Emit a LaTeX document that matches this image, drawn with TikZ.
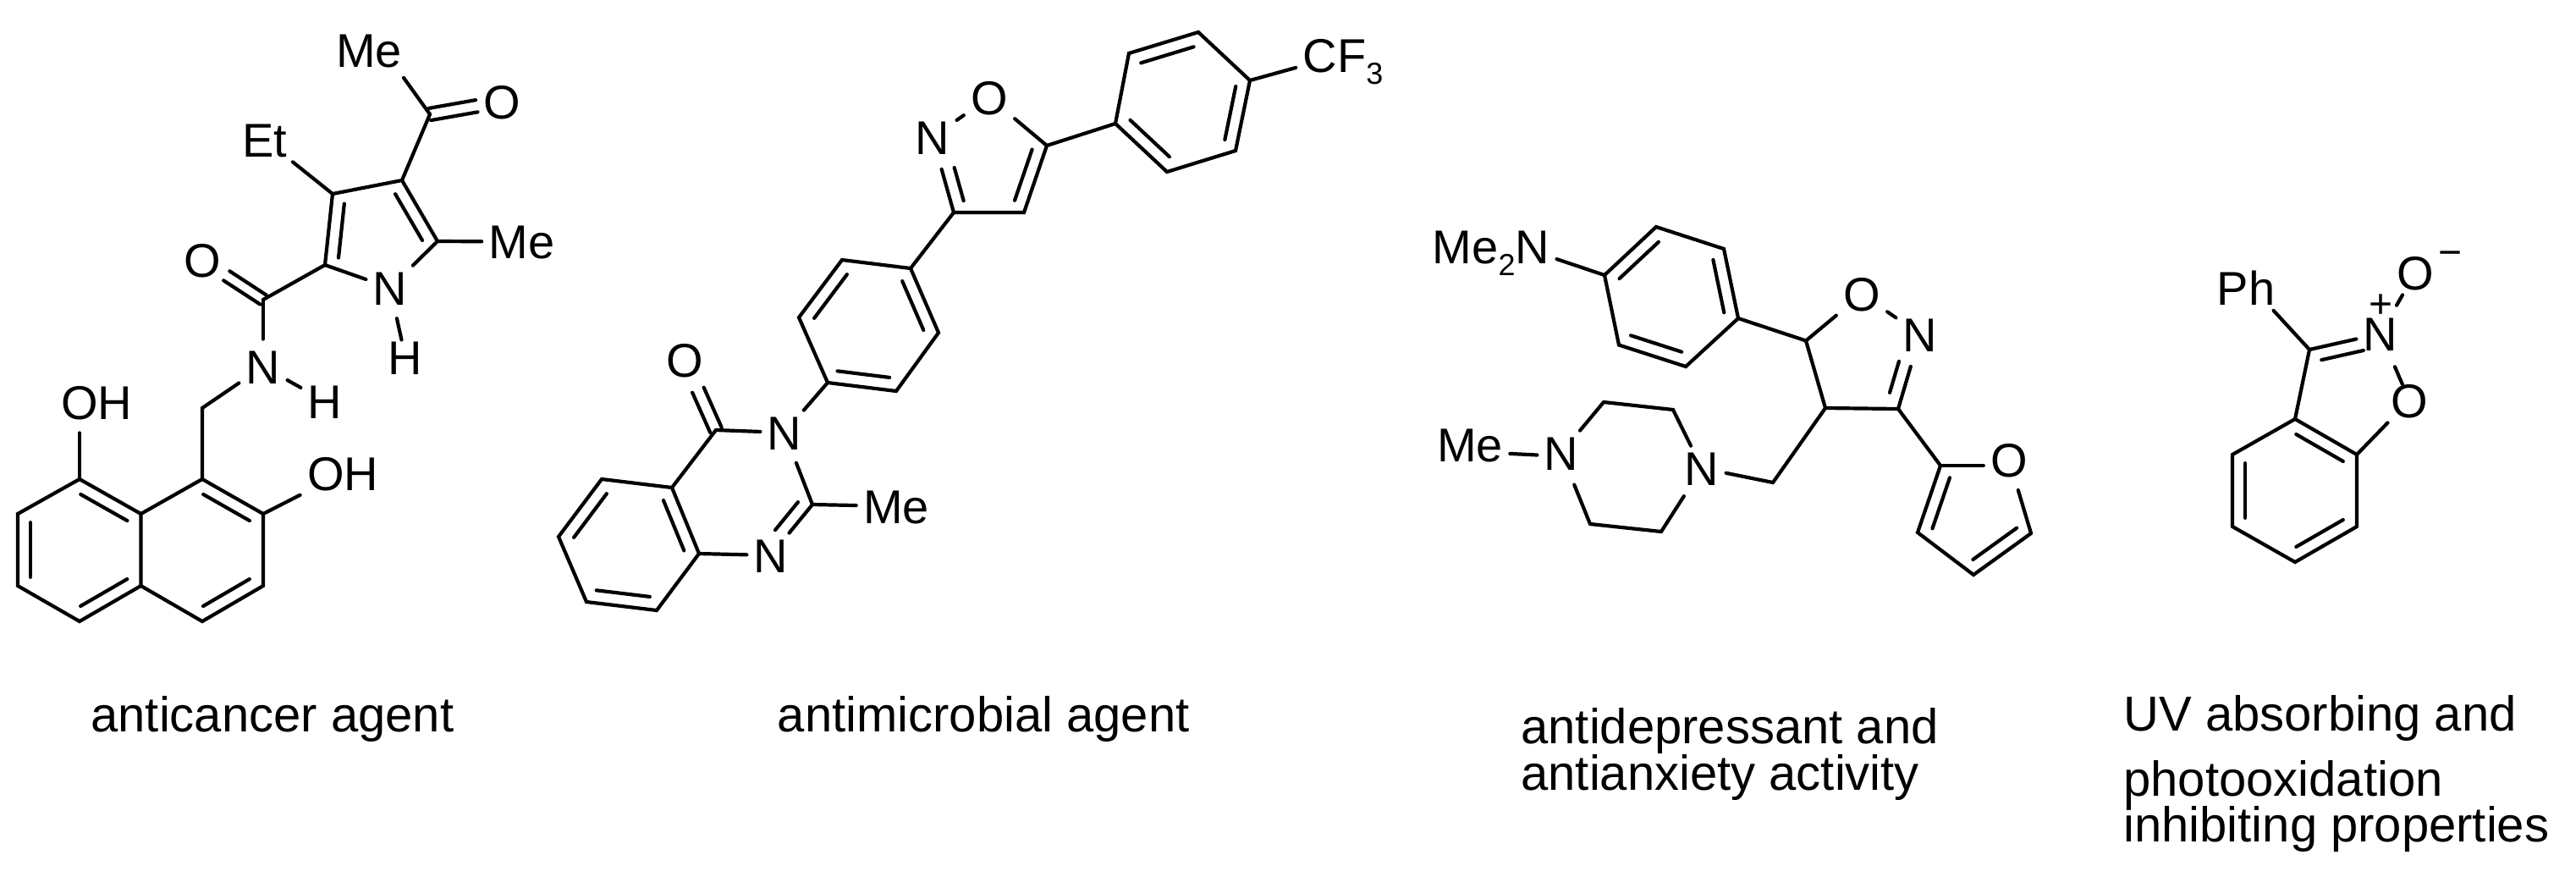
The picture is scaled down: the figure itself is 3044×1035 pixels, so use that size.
\documentclass[tikz,border=0pt]{standalone}
\usepackage{fontspec}
\setmainfont{Liberation Sans}
\usetikzlibrary{calc}
\tikzset{
  bond/.style={line width=2.1pt,line cap=round,line join=miter,black},
  atom/.style={inner xsep=4pt,inner ysep=3pt,text height=20pt,text depth=0pt,font=\fontsize{28}{28}\selectfont,text=black},
  caption/.style={anchor=base west,inner sep=0pt,font=\fontsize{29}{29}\selectfont,text=black},
  charge/.style={inner sep=0pt,font=\fontsize{24}{24}\selectfont,text=black}
}
\newcommand{\chemsub}[1]{\raisebox{-7.2pt}{\fontsize{18}{18}\selectfont #1}}
% inner line of a ring double bond: to the right of the way a -> b
\newcommand{\dblf}[4]{\draw[bond] ($(#1)!#3!(#2)!7.5pt!-90:(#2)$) -- ($(#1)!#4!(#2)!7.5pt!-90:(#2)$);}
\newcommand{\dbl}[2]{\dblf{#1}{#2}{.12}{.88}}
% two lines either side of the axis a -> b, from a to fraction f
\newcommand{\sdbl}[4]{%
  \draw[bond] ($(#1)!0!(#2)!#4!90:(#2)$) -- ($(#1)!#3!(#2)!#4!90:(#2)$);
  \draw[bond] ($(#1)!0!(#2)!#4!-90:(#2)$) -- ($(#1)!#3!(#2)!#4!-90:(#2)$);}
\begin{document}
\begin{tikzpicture}[x=.5pt,y=-.5pt]
\useasboundingbox[fill=white] (0,0) rectangle (3044,1035);
% ---------- molecule 1
\foreach \n/\x/\y in {a1/21/607,a2/21/692,a3/94/734,a4/166.5/692,a5/166.5/607,a6/94/566,a7/239/566,a8/311/607,a9/311/692,a10/239/734,ch2/239/482,amc/311/354,py2/384/313,py3/393/229,py4/475/213,py5/517/285,acc/508/135}
  \coordinate (\n) at (\x,\y);
\node[atom] (oh1) at (114,475) {OH};
\node[atom] (oh2) at (405,559) {OH};
\node[atom] (nam) at (311,433) {N};
\node[atom] (ham) at (384,474) {H};
\node[atom] (oam) at (239,307) {O};
\node[atom] (npy) at (461,340) {N};
\node[atom] (hpy) at (479,422) {H};
\node[atom] (me5) at (616.5,285.5) {Me};
\node[atom] (et) at (313,165) {Et};
\node[atom] (oac) at (593,120) {O};
\node[atom] (meac) at (436,59) {Me};
\draw[bond] (a1)--(a6)--(a5)--(a4)--(a3)--(a2)--cycle;
\draw[bond] (a5)--(a7)--(a8)--(a9)--(a10)--(a4);
\dbl{a6}{a5}\dbl{a4}{a3}\dbl{a2}{a1}\dbl{a7}{a8}\dbl{a9}{a10}
\draw[bond,shorten >=5pt] (a6) -- (a6 |- oh1.south);
\draw[bond] (a8) -- (oh2);
\draw[bond] (a7) -- (ch2) -- (nam);
\draw[bond] (nam) -- (ham);
\draw[bond,shorten >=3pt] (amc) -- (nam);
\sdbl{amc}{oam}{.6}{3.3pt}
\draw[bond] (amc) -- (py2);
\draw[bond] (npy) -- (py2) -- (py3) -- (py4) -- (py5) -- (npy);
\dbl{py2}{py3}\dbl{py4}{py5}
\draw[bond,shorten <=5pt,shorten >=-3pt] (npy) -- (hpy);
\draw[bond] (py5) -- (me5);
\draw[bond] (py3) -- (et);
\draw[bond] (py4) -- (acc);
\draw[bond,shorten >=4pt] (acc) -- (meac.-36);
\sdbl{acc}{oac}{.65}{3.6pt}
% ---------- molecule 2
\foreach \n/\x/\y in {b1/711/566,b2/660/634,b3/693/711,b4/776/721,b5/826/654,b6/794/576,c4/846/508,c2/960/596,p1/978/452,p2/1059/462,p3/1109/393,p4/1076/317,p5/995/307,p6/944/375,i3/1127/251,i4/1210/251,i5/1237/172,q1/1318/146,q2/1379/203,q3/1460/178,q4/1477/95,q5/1416/38,q6/1334/63}
  \coordinate (\n) at (\x,\y);
\node[atom] (oq) at (809,425) {O};
\node[atom] (n3) at (927,511) {N};
\node[atom] (n1) at (911,656) {N};
\node[atom] (meq) at (1059,598) {Me};
\node[atom] (oi) at (1169,115) {O};
\node[atom] (ni) at (1102,162) {N};
\node[atom] (cf) at (1587,65) {CF\chemsub{3}};
\draw[bond] (b1)--(b6)--(b5)--(b4)--(b3)--(b2)--cycle;
\dbl{b2}{b1}\dbl{b6}{b5}\dbl{b4}{b3}
\draw[bond] (b6) -- (c4) -- (n3);
\draw[bond,shorten <=5pt] (n3) -- (c2);
\draw[bond] (c2) -- (n1) -- (b5);
\dblf{c2}{n1}{.11}{.66}
\draw[bond] (c2) -- (meq);
\sdbl{c4}{oq}{.57}{3.7pt}
\draw[bond] (n3) -- (p1);
\draw[bond] (p1)--(p6)--(p5)--(p4)--(p3)--(p2)--cycle;
\dbl{p2}{p1}\dbl{p6}{p5}\dbl{p4}{p3}
\draw[bond] (p4) -- (i3);
\draw[bond,shorten >=6pt] (i3) -- (ni);
\draw[bond] (ni) -- (oi);
\draw[bond] (oi) -- (i5) -- (i4) -- (i3);
\dblf{i3}{ni}{.11}{.55}
\dbl{i5}{i4}
\draw[bond] (i5) -- (q1);
\draw[bond] (q1)--(q6)--(q5)--(q4)--(q3)--(q2)--cycle;
\dbl{q2}{q1}\dbl{q6}{q5}\dbl{q4}{q3}
\draw[bond] (q4) -- (cf.195);
% ---------- molecule 3
\foreach \n/\x/\y in {r1/1896/325,r2/1957/268,r3/2037/294,r4/2054/376,r5/1992/433,r6/1913/407.5,c5/2134/402.5,c3/2243/483,c44/2157/482,cm/2095/570,t1/1895/475,t2/1977/484,t3/1879/619,t4/1963/628,f1/2293/550,f2/2400/630,f3/2332/679,f4/2266/629}
  \coordinate (\n) at (\x,\y);
\node[atom] (me2n) at (1762,291) {Me\chemsub{2}N};
\node[atom] (oz) at (2200,347.5) {O};
\node[atom] (nz) at (2269,395) {N};
\node[atom] (nb) at (2011,553) {N};
\node[atom] (na) at (1845,535) {N};
\node[atom] (mep) at (1737,525) {Me};
\node[atom] (of) at (2374,543) {O};
\draw[bond] (r1)--(r2)--(r3)--(r4)--(r5)--(r6)--cycle;
\dbl{r1}{r2}\dbl{r3}{r4}\dbl{r5}{r6}
\draw[bond] (r1) -- (me2n.-11);
\draw[bond] (r4) -- (c5) -- (oz);
\draw[bond] (oz) -- (nz);
\draw[bond,shorten >=6pt] (c3) -- (nz);
\dblf{nz}{c3}{.41}{.83}
\draw[bond] (c5) -- (c44) -- (c3);
\draw[bond] (c44) -- (cm) -- (nb);
\draw[bond] (na) -- (t1) -- (t2) -- (nb);
\draw[bond,shorten >=6pt] (t3) -- (na);
\draw[bond,shorten >=4pt] (t4) -- (nb);
\draw[bond] (t3) -- (t4);
\draw[bond] (mep.-13) -- (na.185);
\draw[bond] (c3) -- (f1);
\draw[bond] (f1) -- (f1 -| of.west);
\draw[bond,shorten >=5pt] (f2) -- (of);
\draw[bond] (f2) -- (f3) -- (f4) -- (f1);
\dbl{f2}{f3}\dbl{f4}{f1}
% ---------- molecule 4
\foreach \n/\x/\y in {s1/2638/537,s2/2638/622,s3/2712/664,s4/2785/622,s5/2785/537,s6/2712/495,s7/2729/413}
  \coordinate (\n) at (\x,\y);
\node[atom] (ph) at (2654,340.5) {Ph};
\node[atom] (nplus) at (2813,394) {N};
\node[atom] (oring) at (2847,473) {O};
\node[atom] (ominus) at (2854,322) {O};
\node[charge] (plus) at (2813,362) {+};
\node[charge] (minus) at (2895,306) {−};
\draw[bond] (s1)--(s6)--(s5)--(s4)--(s3)--(s2)--cycle;
\dbl{s6}{s5}\dbl{s4}{s3}\dbl{s2}{s1}
\draw[bond] (s6) -- (s7);
\draw[bond] (s7) -- (ph.-39);
\draw[bond] (s7) -- (nplus);
\dblf{s7}{nplus}{.13}{.72}
\draw[bond,shorten <=4pt] (nplus) -- (ominus);
\draw[bond,shorten <=7pt,shorten >=-4pt] (nplus) -- (oring);
\draw[bond] (oring) -- (s5);
% ---------- captions
\node[caption] (cap1) at (107,864) {anticancer agent};
\node[caption] (cap2) at (918.5,864) {antimicrobial agent};
\node[caption] (cap3a) at (1797,878) {antidepressant and};
\node[caption] (cap3b) at (1797,933) {antianxiety activity};
\node[caption] (cap4a) at (2509,863) {UV absorbing and};
\node[caption] (cap4b) at (2509,940) {photooxidation};
\node[caption] (cap4c) at (2509,994) {inhibiting properties};
\end{tikzpicture}
\end{document}
